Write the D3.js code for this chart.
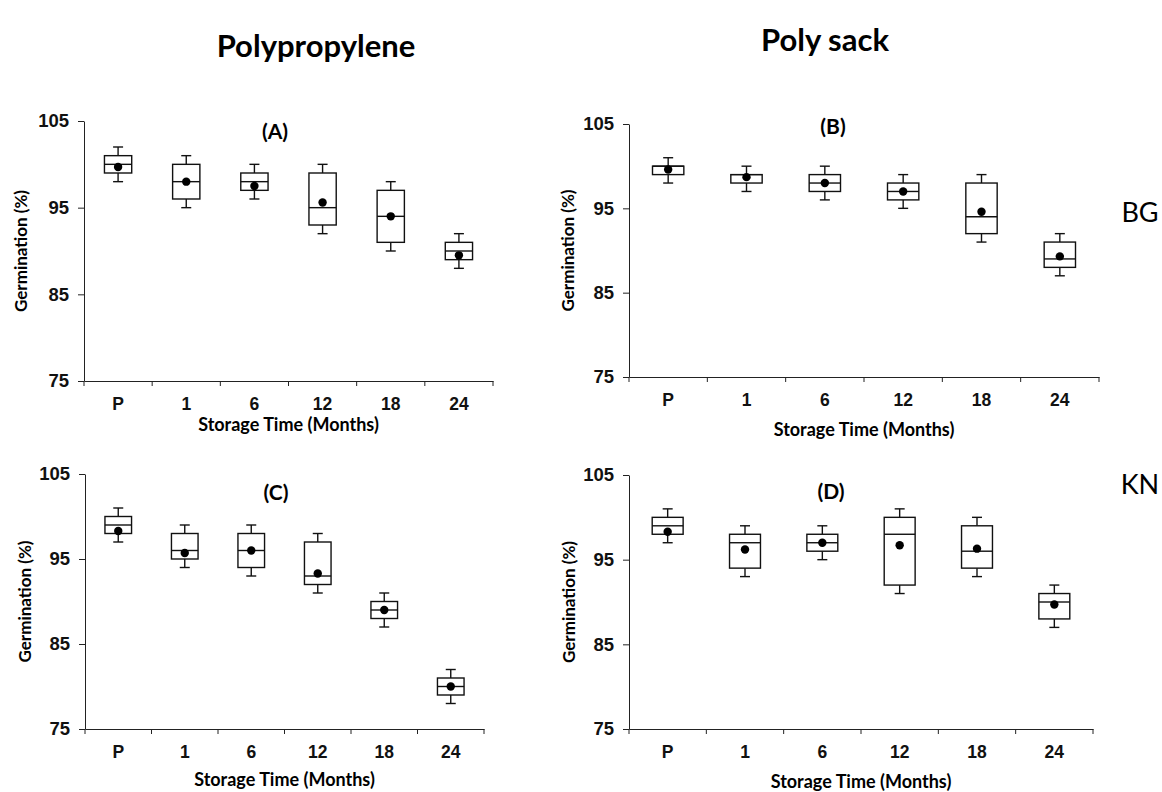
<!DOCTYPE html>
<html>
<head>
<meta charset="utf-8">
<script src="https://cdn.jsdelivr.net/npm/d3@7"></script>
<style>
  body { margin: 0; background: #fff; }
  svg { display: block; font-family: Lato, "Open Sans", sans-serif; }
</style>
</head>
<body>
<svg id="chart" width="1162" height="792"></svg>
<script>
// storage time categories and y ticks
var categories = ["P", "1", "6", "12", "18", "24"];
var yTicks = [75, 85, 95, 105];

// each box: [whisker low, q1, median, q3, whisker high]
var boxesA = [[98, 99, 100, 101, 102], [95, 96, 98, 100, 101], [96, 97, 98, 99, 100],
              [92, 93, 95, 99, 100], [90, 91, 94, 97, 98], [88, 89, 90, 91, 92]];
var meansA = [99.7, 98, 97.5, 95.6, 94, 89.5];

var boxesB = [[98, 99, 100, 100, 101], [97, 98, 99, 99, 100], [96, 97, 98, 99, 100],
              [95, 96, 97, 98, 99], [91, 92, 94, 98, 99], [87, 88, 89, 91, 92]];
var meansB = [99.6, 98.7, 98, 97, 94.6, 89.3];

var boxesC = [[97, 98, 99, 100, 101], [94, 95, 96, 98, 99], [93, 94, 96, 98, 99],
              [91, 92, 93, 97, 98], [87, 88, 89, 90, 91], [78, 79, 80, 81, 82]];
var meansC = [98.3, 95.7, 96, 93.3, 89, 80];

var boxesD = [[97, 98, 99, 100, 101], [93, 94, 97, 98, 99], [95, 96, 97, 98, 99],
              [91, 92, 98, 100, 101], [93, 94, 96, 99, 100], [87, 88, 90, 91, 92]];
var meansD = [98.3, 96.2, 97, 96.7, 96.3, 89.7];

var svg = d3.select('#chart');

function drawPanel(p) {
    var g = svg.append('g');

    var x = d3.scaleBand().domain(categories).range([p.left, p.right]);
    var y = d3.scaleLinear().domain([75, 105]).range([p.bottom, p.top]);

    // y axis
    var yAxis = g.append('g')
        .attr('transform', 'translate(' + p.left + ',0)')
        .call(d3.axisLeft(y).tickValues(yTicks).tickSize(6).tickPadding(9).tickSizeOuter(0));
    yAxis.selectAll('text').style('font-size', '18.5px').style('font-weight', 'bold').attr('fill', '#111');
    yAxis.selectAll('line, path').attr('stroke', '#222');

    // x axis (labels centred in bands)
    var xAxis = g.append('g')
        .attr('transform', 'translate(0,' + p.bottom + ')')
        .call(d3.axisBottom(x).tickSize(0).tickPadding(17).tickSizeOuter(0));
    xAxis.selectAll('text').style('font-size', '17.5px').style('font-weight', 'bold').attr('fill', '#111');
    xAxis.select('path').attr('stroke', '#222');

    // ticks between categories
    var bounds = categories.map(function (c) { return x(c); }).concat([x.range()[1]]);
    g.selectAll('line.xb')
        .data(bounds)
        .enter().append('line')
        .attr('class', 'xb')
        .attr('x1', function (d) { return d; })
        .attr('x2', function (d) { return d; })
        .attr('y1', p.bottom)
        .attr('y2', p.bottom + 5)
        .attr('stroke', '#222');

    var bw = x.bandwidth() * 0.4;
    var cap = 5;
    var rows = p.boxes.map(function (b, i) {
        return { cat: categories[i], b: b, mean: p.means[i] };
    });
    var cx = function (d) { return x(d.cat) + x.bandwidth() / 2; };

    var box = g.selectAll('g.box')
        .data(rows)
        .enter().append('g')
        .attr('class', 'box')
        .attr('stroke', '#111')
        .attr('stroke-width', 1.4);

    // whiskers
    box.append('line')
        .attr('x1', cx).attr('x2', cx)
        .attr('y1', function (d) { return y(d.b[4]); })
        .attr('y2', function (d) { return y(d.b[3]); });
    box.append('line')
        .attr('x1', cx).attr('x2', cx)
        .attr('y1', function (d) { return y(d.b[1]); })
        .attr('y2', function (d) { return y(d.b[0]); });
    box.append('line')
        .attr('x1', function (d) { return cx(d) - cap; })
        .attr('x2', function (d) { return cx(d) + cap; })
        .attr('y1', function (d) { return y(d.b[4]); })
        .attr('y2', function (d) { return y(d.b[4]); });
    box.append('line')
        .attr('x1', function (d) { return cx(d) - cap; })
        .attr('x2', function (d) { return cx(d) + cap; })
        .attr('y1', function (d) { return y(d.b[0]); })
        .attr('y2', function (d) { return y(d.b[0]); });

    // box
    box.append('rect')
        .attr('x', function (d) { return cx(d) - bw / 2; })
        .attr('y', function (d) { return y(d.b[3]); })
        .attr('width', bw)
        .attr('height', function (d) { return y(d.b[1]) - y(d.b[3]); })
        .attr('fill', '#fff');

    // median
    box.append('line')
        .attr('x1', function (d) { return cx(d) - bw / 2; })
        .attr('x2', function (d) { return cx(d) + bw / 2; })
        .attr('y1', function (d) { return y(d.b[2]); })
        .attr('y2', function (d) { return y(d.b[2]); });

    // mean
    box.append('circle')
        .attr('cx', cx)
        .attr('cy', function (d) { return y(d.mean); })
        .attr('r', 4.2)
        .attr('stroke', 'none')
        .attr('fill', '#000');

    // panel letter
    g.append('text')
        .attr('x', p.labelX).attr('y', p.labelY)
        .attr('dy', '0.35em')
        .attr('text-anchor', 'middle')
        .style('font-size', '21px').style('font-weight', 'bold')
        .text(p.label);

    // axis titles
    g.append('text')
        .attr('x', (p.left + p.right) / 2)
        .attr('y', p.xTitleY)
        .attr('text-anchor', 'middle')
        .style('font-size', '18px').style('font-weight', 'bold')
        .text('Storage Time (Months)');

    g.append('text')
        .attr('transform', 'translate(' + p.yTitleX + ',' + ((p.top + p.bottom) / 2) + ') rotate(-90)')
        .attr('dy', '0.35em')
        .attr('text-anchor', 'middle')
        .style('font-size', '17px').style('font-weight', 'bold')
        .text('Germination (%)');
}

var panels = [
    { label: '(A)', boxes: boxesA, means: meansA, left: 84, right: 493, top: 121, bottom: 381,
      labelX: 275, labelY: 132, xTitleY: 431, yTitleX: 21 },
    { label: '(B)', boxes: boxesB, means: meansB, left: 629, right: 1099, top: 124, bottom: 377,
      labelX: 833, labelY: 127, xTitleY: 436, yTitleX: 568 },
    { label: '(C)', boxes: boxesC, means: meansC, left: 85, right: 484, top: 474, bottom: 729,
      labelX: 276, labelY: 493, xTitleY: 786, yTitleX: 25 },
    { label: '(D)', boxes: boxesD, means: meansD, left: 629, right: 1093, top: 475, bottom: 729,
      labelX: 831, labelY: 492, xTitleY: 788, yTitleX: 569 }
];

panels.forEach(drawPanel);

// column and row headings
svg.append('text').attr('x', 316).attr('y', 57).attr('text-anchor', 'middle')
    .style('font-size', '31px').style('font-weight', 'bold').text('Polypropylene');
svg.append('text').attr('x', 825).attr('y', 51).attr('text-anchor', 'middle')
    .style('font-size', '31px').style('font-weight', 'bold').text('Poly sack');
svg.append('text').attr('x', 1140).attr('y', 222).attr('text-anchor', 'middle')
    .style('font-size', '27px').text('BG');
svg.append('text').attr('x', 1140).attr('y', 494).attr('text-anchor', 'middle')
    .style('font-size', '27px').text('KN');
</script>
</body>
</html>
